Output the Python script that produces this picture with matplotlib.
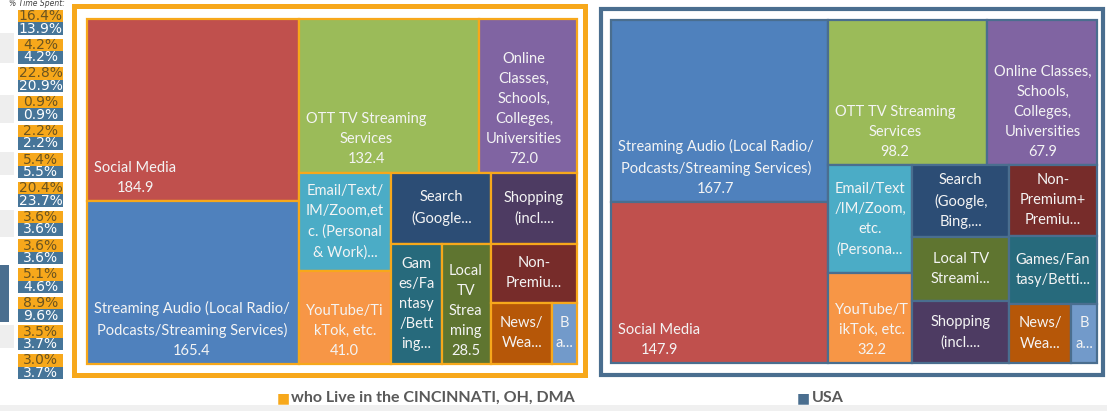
import matplotlib.pyplot as plt
from matplotlib.patches import Rectangle

# categories in the order of the "% Time Spent" column
cats = ['OTT', 'Search', 'Social', 'Books', 'News', 'Email', 'Audio',
        'Shopping', 'Games', 'YouTube', 'Online', 'LocalTV', 'NonPremium']
cin_pct = [16.4, 4.2, 22.8, 0.9, 2.2, 5.4, 20.4, 3.6, 3.6, 5.1, 8.9, 3.5, 3.0]
usa_pct = [13.9, 4.2, 20.9, 0.9, 2.2, 5.5, 23.7, 3.6, 3.6, 4.6, 9.6, 3.7, 3.7]
cin_vals = [132.4, 34.0, 184.9, 7.3, 17.8, 43.7, 165.4, 29.2, 29.2, 41.0, 72.0, 28.5, 24.3]
usa_vals = [98.2, 29.7, 147.9, 6.4, 15.6, 38.9, 167.7, 25.5, 25.5, 32.2, 67.9, 26.2, 26.2]

cin_labels = {
    'Social': 'Social Media', 'Audio': 'Streaming Audio (Local Radio/\nPodcasts/Streaming Services)',
    'OTT': 'OTT TV Streaming\nServices', 'Online': 'Online\nClasses,\nSchools,\nColleges,\nUniversities',
    'Email': 'Email/Text/\nIM/Zoom,et\nc. (Personal\n& Work)...', 'YouTube': 'YouTube/Ti\nkTok, etc.',
    'Search': 'Search\n(Google...', 'Shopping': 'Shopping\n(incl....',
    'Games': 'Gam\nes/Fa\nntasy\n/Bett\ning...', 'LocalTV': 'Local\nTV\nStrea\nming',
    'NonPremium': 'Non-\nPremiu...', 'News': 'News/\nWea...', 'Books': 'B\na...'}
usa_labels = {
    'Social': 'Social Media', 'Audio': 'Streaming Audio (Local Radio/\nPodcasts/Streaming Services)',
    'OTT': 'OTT TV Streaming\nServices', 'Online': 'Online Classes,\nSchools,\nColleges,\nUniversities',
    'Email': 'Email/Text\n/IM/Zoom,\netc.\n(Persona...', 'YouTube': 'YouTube/T\nikTok, etc.',
    'Search': 'Search\n(Google,\nBing,...', 'Shopping': 'Shopping\n(incl....',
    'Games': 'Games/Fan\ntasy/Betti...', 'LocalTV': 'Local TV\nStreami...',
    'NonPremium': 'Non-\nPremium+\nPremiu...', 'News': 'News/\nWea...', 'Books': 'B\na...'}
cin_shown = ['Social', 'Audio', 'OTT', 'Online', 'YouTube', 'LocalTV']
usa_shown = ['Social', 'Audio', 'OTT', 'Online', 'YouTube']

colors = {'Social': '#C0504D', 'Audio': '#4F81BD', 'OTT': '#9BBB59', 'Online': '#8064A2',
          'Email': '#4BACC6', 'YouTube': '#F79646', 'Search': '#2C4D75', 'Shopping': '#4D3B62',
          'Games': '#276A7C', 'LocalTV': '#5F7530', 'NonPremium': '#772C2A', 'News': '#B65708',
          'Books': '#729ACA'}

# nesting of the tiles (h = side by side, v = stacked)
cin_tree = ('h', [('v', ['Social', 'Audio']),
                  ('v', [('h', ['OTT', 'Online']),
                         ('h', [('v', ['Email', 'YouTube']),
                                ('v', [('h', ['Search', 'Shopping']),
                                       ('h', ['Games', 'LocalTV',
                                              ('v', ['NonPremium', ('h', ['News', 'Books'])])])])])])])
usa_tree = ('h', [('v', ['Audio', 'Social']),
                  ('v', [('h', ['OTT', 'Online']),
                         ('h', [('v', ['Email', 'YouTube']),
                                ('h', [('v', ['Search', 'LocalTV', 'Shopping']),
                                       ('v', ['NonPremium', 'Games', ('h', ['News', 'Books'])])])])])])

ORANGE = '#F7A81B'
SLATE = '#4A6E8F'
FONT = 'Lato'
FS = 10.5
LS = 1.55


def size(node, vals):
    if isinstance(node, str):
        return vals[node]
    return sum(size(k, vals) for k in node[1])


def layout(node, vals, x, y, w, h, out):
    if isinstance(node, str):
        out[node] = (x, y, w, h)
        return
    d, kids = node
    tot = size(node, vals)
    pos = 0
    for k in kids:
        s = size(k, vals) / tot
        if d == 'h':
            layout(k, vals, x + pos * w, y, s * w, h, out)
        else:
            layout(k, vals, x, y + pos * h, w, s * h, out)
        pos += s


def treemap(ax, tree, values, labels, shown, edge):
    vals = dict(zip(cats, values))
    rects = {}
    layout(tree, vals, 0, 0, 1, 1, rects)
    for c, (x, y, w, h) in rects.items():
        ax.add_patch(Rectangle((x, y), w, h, fc=colors[c], ec=edge, lw=1.6, clip_on=False))
        if c in shown:
            ax.annotate(labels[c] + '\n' + f'{vals[c]:.1f}', xy=(x, y + h), xytext=(5, 4.5),
                        textcoords='offset points', ha='left', va='bottom', multialignment='center',
                        color='#F4F4F4', fontsize=FS, family=FONT, linespacing=LS)
        else:
            ax.text(x + w / 2, y + h / 2, labels[c], ha='center', va='center',
                    multialignment='center', color='#F4F4F4', fontsize=FS, family=FONT,
                    linespacing=LS)
    ax.set_xlim(0, 1)
    ax.set_ylim(1, 0)
    ax.axis('off')


fig = plt.figure(figsize=(11.07, 4.11), dpi=100)
W, H = 1107, 411


def box(l, t, r, b):
    return [l / W, 1 - b / H, (r - l) / W, (b - t) / H]


# background remnants at the left edge and bottom
for t, b in [(33, 63), (95, 123), (152, 175), (210, 237), (325, 348)]:
    fig.add_artist(Rectangle((0, 1 - b / H), 14 / W, (b - t) / H, transform=fig.transFigure,
                             fc='#EEEEEE', ec='none'))
fig.add_artist(Rectangle((0, 1 - 322 / H), 9 / W, 57 / H, transform=fig.transFigure,
                         fc='#4A6E8F', ec='none'))
fig.add_artist(Rectangle((0, 0), 1, 6 / H, transform=fig.transFigure, fc='#F0F0F0', ec='none'))

# % time spent column
axp = fig.add_axes(box(18, 8, 63, 381))
rows = list(range(len(cats)))
axp.barh([r - 0.2175 for r in rows], 1, height=0.435, color=ORANGE)
axp.barh([r + 0.2175 for r in rows], 1, height=0.435, color='#467599')
for r in rows:
    axp.text(0.5, r - 0.2175, f'{cin_pct[r]:.1f}%', ha='center', va='center',
             color='#6B5420', fontsize=10)
    axp.text(0.5, r + 0.2175, f'{usa_pct[r]:.1f}%', ha='center', va='center',
             color='white', fontsize=10)
axp.set_xlim(0, 1)
axp.set_ylim(len(cats) - 0.5, -0.5)
axp.axis('off')
fig.text(37 / W, 1 - 3 / H, '% Time Spent:', ha='center', va='center', fontsize=5.5,
         style='italic', color='#404040')

# frames
fig.add_artist(Rectangle((74 / W, 1 - 374.5 / H), 510.5 / W, 368 / H, transform=fig.transFigure,
                         fc='none', ec=ORANGE, lw=3.6))
fig.add_artist(Rectangle((600.5 / W, 1 - 374.5 / H), 502.5 / W, 365.5 / H, transform=fig.transFigure,
                         fc='none', ec=SLATE, lw=3))

ax1 = fig.add_axes(box(87, 19, 577, 364))
treemap(ax1, cin_tree, cin_vals, cin_labels, cin_shown, ORANGE)
ax2 = fig.add_axes(box(611, 20, 1097, 363))
treemap(ax2, usa_tree, usa_vals, usa_labels, usa_shown, SLATE)

# legend
fig.text(277 / W, 1 - 398 / H, '\u25A0', color=ORANGE, fontsize=10, va='center', ha='left')
fig.text(291 / W, 1 - 398 / H, 'who Live in the CINCINNATI, OH, DMA', color='#595959',
         fontsize=11.5, fontweight='bold', family=FONT, va='center', ha='left')
fig.text(797 / W, 1 - 398 / H, '\u25A0', color=SLATE, fontsize=10, va='center', ha='left')
fig.text(812 / W, 1 - 398 / H, 'USA', color='#595959',
         fontsize=11.5, fontweight='bold', family=FONT, va='center', ha='left')

fig.savefig('out.png', dpi=100)
